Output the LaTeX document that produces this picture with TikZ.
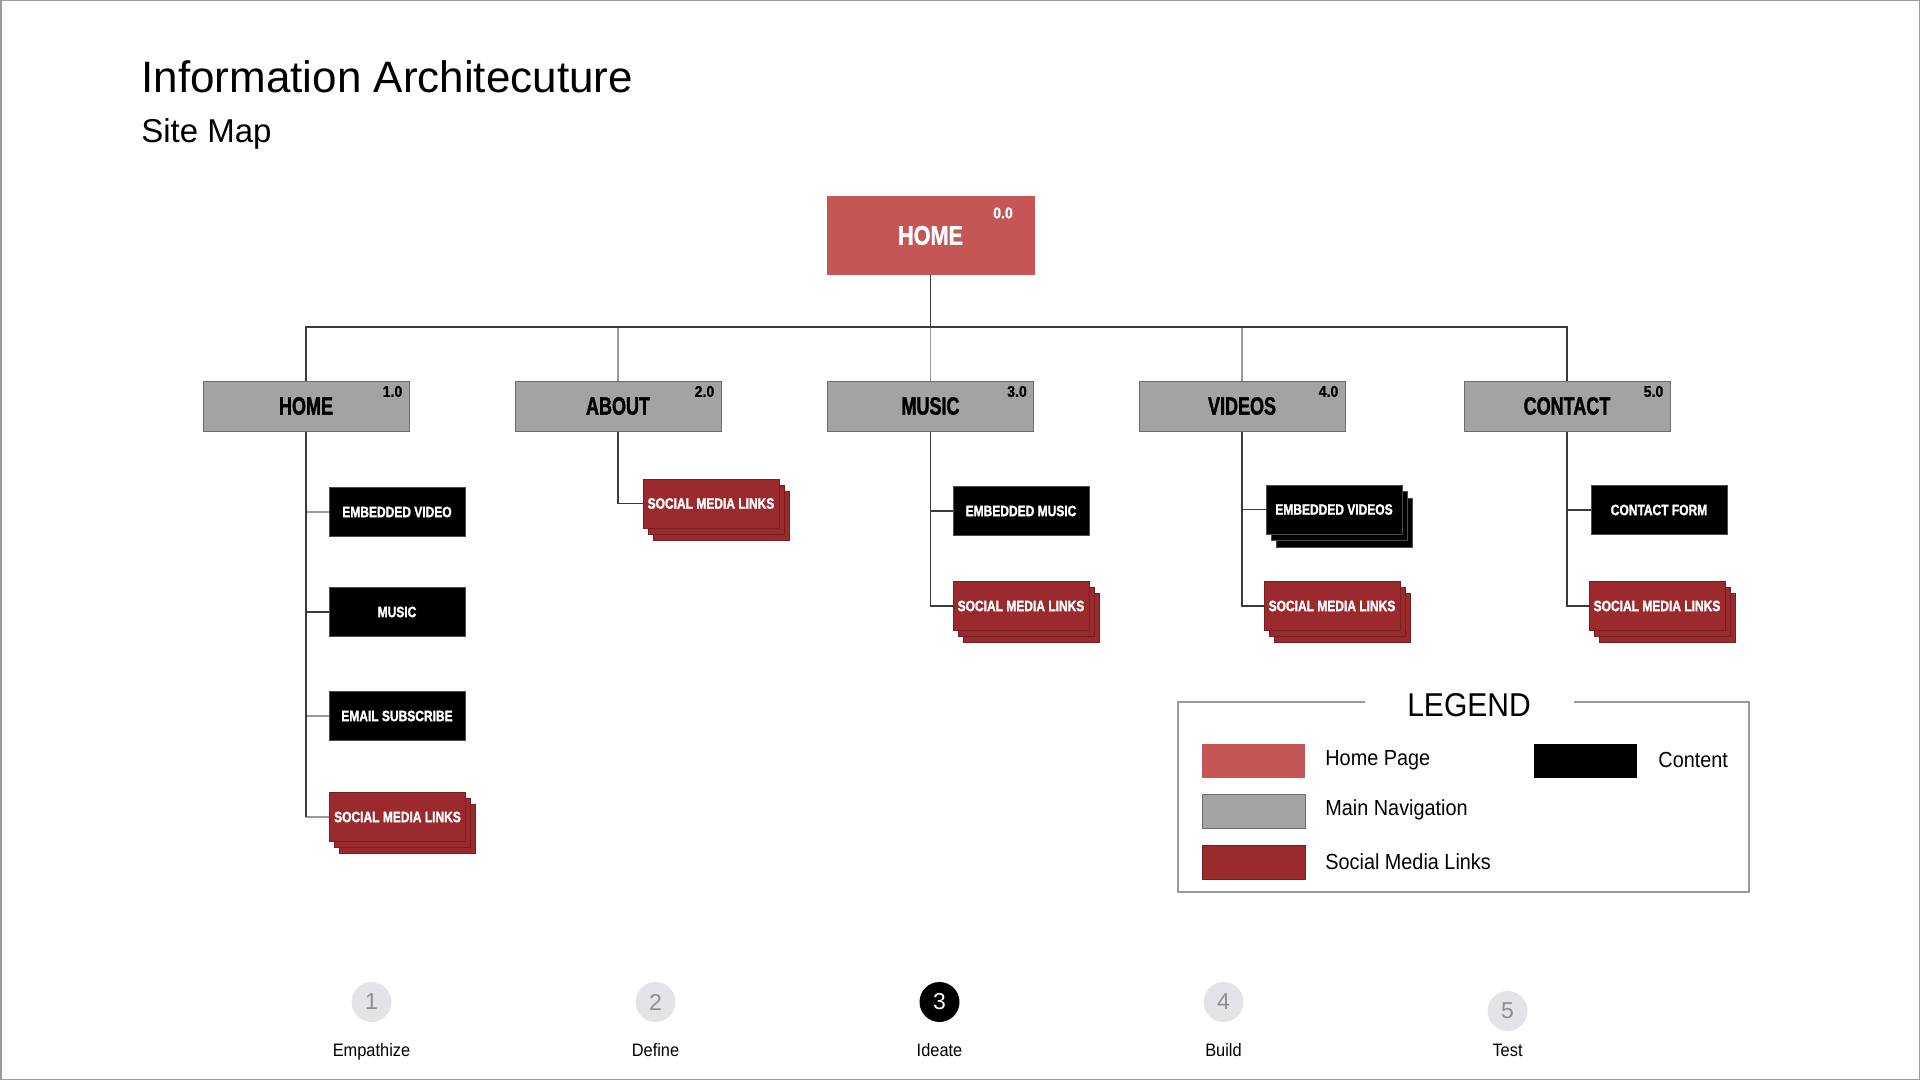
\documentclass[tikz,border=0pt]{standalone}
\usepackage{fontspec}
\setmainfont{Liberation Sans}
\newfontfamily\boxfont{Liberation Sans Bold}[FakeStretch=0.8, FakeBold=1.5]
\newfontfamily\navfont{Liberation Sans Bold}[FakeStretch=0.72, FakeBold=1.5]
\newfontfamily\numfont{Liberation Sans Bold}[FakeStretch=0.9, FakeBold=1]
\newfontfamily\legfont{Liberation Sans}[FakeStretch=0.91]
\usetikzlibrary{shadows}
\definecolor{homered}{HTML}{C45656}
\definecolor{navgray}{HTML}{A3A3A3}
\definecolor{navedge}{HTML}{6E6E6E}
\definecolor{socred}{HTML}{9A2A2D}
\definecolor{socedge}{HTML}{781E21}
\definecolor{connc}{HTML}{3A3A3A}
\definecolor{connl}{HTML}{9A9A9A}
\definecolor{stepgray}{HTML}{E4E4E8}
\definecolor{stepnum}{HTML}{8E8E93}
\definecolor{framec}{HTML}{9A9A9A}
\tikzset{
  homebox/.style={fill=homered, minimum width=104pt, minimum height=39.5pt, inner sep=0pt, text=white, font=\boxfont\fontsize{13.5}{14}\selectfont},
  navbox/.style={fill=navgray, draw=navedge, line width=0.5pt, minimum width=103pt, minimum height=25pt, inner sep=0pt, font=\navfont\fontsize{12.5}{13}\selectfont},
  contentbox/.style={fill=black, draw=black!70, line width=0.3pt, minimum width=68pt, minimum height=24.5pt, inner sep=0pt, text=white, font=\boxfont\fontsize{7.5}{8}\selectfont},
  stackcontent/.style={contentbox,
    copy shadow={shadow xshift=5pt, shadow yshift=-6.5pt, fill=black, draw=black!70, line width=0.3pt},
    copy shadow={shadow xshift=2.5pt, shadow yshift=-3.25pt, fill=black, draw=black!70, line width=0.3pt}},
  socialbox/.style={fill=socred, draw=socedge, line width=0.3pt, minimum width=68pt, minimum height=24.5pt, inner sep=0pt, text=white, font=\boxfont\fontsize{7.5}{8}\selectfont,
    copy shadow={shadow xshift=5pt, shadow yshift=-6pt, fill=socred, draw=socedge, line width=0.3pt},
    copy shadow={shadow xshift=2.5pt, shadow yshift=-3pt, fill=socred, draw=socedge, line width=0.3pt}},
  numlabel/.style={font=\numfont\fontsize{7.8}{8}\selectfont, inner sep=0pt},
  connector/.style={draw=connc, line width=0.6pt},
  lightconn/.style={draw=connl, line width=0.6pt},
  swatch/.style={minimum width=51.5pt, minimum height=17pt, inner sep=0pt},
  legtext/.style={font=\legfont\fontsize{10.9}{12}\selectfont, anchor=west, inner sep=0pt},
  stepcircle/.style={circle, fill=stepgray, minimum size=20pt, inner sep=0pt, text=stepnum, font=\fontsize{11.5}{12}\selectfont},
  steplabel/.style={font=\legfont\fontsize{9}{10}\selectfont, inner sep=0pt, anchor=base}
}
\begin{document}
\begin{tikzpicture}[x=0.5pt, y=-0.5pt]
\useasboundingbox (0,0) rectangle (1920,1080);
\draw[framec, line width=0.75pt] (0.75,0.75) rectangle (1919.25,1079.25);

% titles
\node[anchor=base west, inner sep=0pt, font=\fontsize{22}{24}\selectfont] (title) at (141,93) {Information Architecuture};
\node[anchor=base west, inner sep=0pt, font=\fontsize{16.5}{18}\selectfont] (subtitle) at (141,143) {Site Map};

% top
\node[homebox] (home) at (930.5,235.5) {HOME};
\node[numlabel, text=white] (home-n) at (1003,213) {0.0};

% nav
\node[navbox] (n1) at (306,406) {HOME};
\node[navbox] (n2) at (618,406) {ABOUT};
\node[navbox] (n3) at (930.5,406) {MUSIC};
\node[navbox] (n4) at (1242,406) {VIDEOS};
\node[navbox] (n5) at (1567,406) {CONTACT};
\node[numlabel] (n1-n) at ([xshift=-8.5pt,yshift=-5.5pt]n1.north east) {1.0};
\node[numlabel] (n2-n) at ([xshift=-8.5pt,yshift=-5.5pt]n2.north east) {2.0};
\node[numlabel] (n3-n) at ([xshift=-8.5pt,yshift=-5.5pt]n3.north east) {3.0};
\node[numlabel] (n4-n) at ([xshift=-8.5pt,yshift=-5.5pt]n4.north east) {4.0};
\node[numlabel] (n5-n) at ([xshift=-8.5pt,yshift=-5.5pt]n5.north east) {5.0};

\coordinate (bus) at (930.5,327);
\draw[lightconn] (n2.north) -- (n2.north |- bus);
\draw[lightconn] (n3.north) -- (n3.north |- bus);
\draw[lightconn] (n4.north) -- (n4.north |- bus);
\draw[connector] (home.south) -- (home.south |- bus);
\draw[connector] (n1.north) -- (n1.north |- bus) -- (n5.north |- bus) -- (n5.north);

% children
\node[contentbox] (c11) at (397,512) {EMBEDDED VIDEO};
\node[contentbox] (c12) at (397,612) {MUSIC};
\node[contentbox] (c13) at (397,716) {EMAIL SUBSCRIBE};
\node[socialbox] (c14) at (397.5,817) {SOCIAL MEDIA LINKS};

\node[socialbox] (c21) at (711,503.5) {SOCIAL MEDIA LINKS};

\node[contentbox] (c31) at (1021,511) {EMBEDDED MUSIC};
\node[socialbox] (c32) at (1021,606) {SOCIAL MEDIA LINKS};

\node[stackcontent] (c41) at (1334,509.5) {EMBEDDED VIDEOS};
\node[socialbox] (c42) at (1332,606) {SOCIAL MEDIA LINKS};

\node[contentbox] (c51) at (1659,510) {CONTACT FORM};
\node[socialbox] (c52) at (1657,606) {SOCIAL MEDIA LINKS};

\draw[lightconn] (n1.south |- c11.west) -- (c11.west);
\draw[connector] (n1.south |- c12.west) -- (c12.west);
\draw[lightconn] (n1.south |- c13.west) -- (c13.west);
\draw[lightconn] (n1.south |- c14.west) -- (c14.west);
\draw[connector] (n1.south) -- (n1.south |- c14.west);
\draw[connector] (n2.south) |- (c21.west);
\draw[connector] (n3.south) |- (c32.west);
\draw[connector] (n3.south |- c31.west) -- (c31.west);
\draw[connector] (n4.south) |- (c42.west);
\draw[connector] (n4.south |- c41.west) -- (c41.west);
\draw[connector] (n5.south) |- (c52.west);
\draw[connector] (n5.south |- c51.west) -- (c51.west);

% legend
\draw[framec, line width=0.6pt] (1365,702) -- (1178,702) -- (1178,892) -- (1749,892) -- (1749,702) -- (1574,702);
\node[inner sep=0pt, font=\legfont\fontsize{16.5}{18}\selectfont] (legtitle) at (1469,705) {LEGEND};
\node[swatch, fill=homered] (sw1) at (1253.7,761) {};
\node[swatch, fill=navgray, draw=navedge, line width=0.4pt] (sw2) at (1253.7,811.5) {};
\node[swatch, fill=socred, draw=socedge, line width=0.4pt] (sw3) at (1253.7,862) {};
\node[swatch, fill=black] (sw4) at (1585.5,761) {};
\node[legtext] (lt1) at (1325,760) {Home Page};
\node[legtext] (lt2) at (1325,810) {Main Navigation};
\node[legtext] (lt3) at (1325,862) {Social Media Links};
\node[legtext] (lt4) at (1658,760) {Content};

% steps
\node[stepcircle] (s1) at (371.5,1002) {1};
\node[stepcircle] (s2) at (655.5,1002) {2};
\node[stepcircle, fill=black, text=white] (s3) at (939.5,1002) {3};
\node[stepcircle] (s4) at (1223.5,1002) {4};
\node[stepcircle] (s5) at (1507.5,1011) {5};
\node[steplabel] (l1) at (371.5,1056) {Empathize};
\node[steplabel] (l2) at (655.5,1056) {Define};
\node[steplabel] (l3) at (939.5,1056) {Ideate};
\node[steplabel] (l4) at (1223.5,1056) {Build};
\node[steplabel] (l5) at (1507.5,1056) {Test};
\end{tikzpicture}
\end{document}
